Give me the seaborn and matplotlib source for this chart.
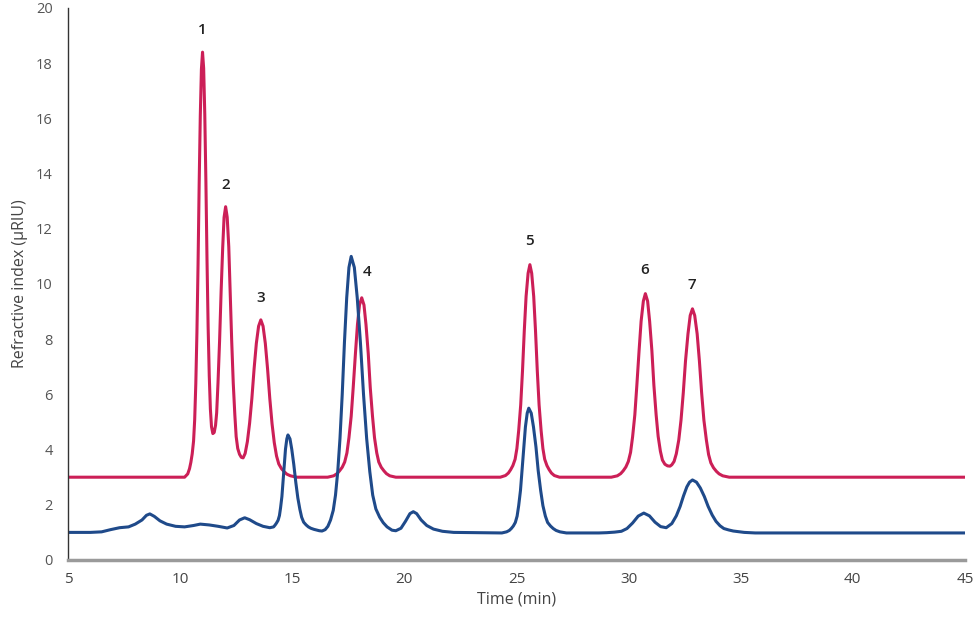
import numpy as np
import pandas as pd
import seaborn as sns
from matplotlib import pyplot as plt

# red trace (offset by ~3 uRIU)
red_time = [5.0, 10.2, 10.34, 10.42, 10.48, 10.54, 10.6, 10.65, 10.7, 10.75, 10.8, 10.85, 10.9, 10.95, 11.0,
            11.05, 11.1, 11.15, 11.2, 11.25, 11.3, 11.35, 11.4, 11.46, 11.52, 11.58, 11.63, 11.69, 11.76, 11.83,
            11.9, 11.96, 12.03, 12.1, 12.17, 12.23, 12.3, 12.37, 12.44, 12.5, 12.57, 12.65, 12.73, 12.81, 12.9,
            13.0, 13.1, 13.2, 13.3, 13.4, 13.5, 13.6, 13.7, 13.8, 13.9, 14.0, 14.1, 14.2, 14.3, 14.4, 14.52,
            14.64, 14.76, 14.92, 15.2, 16.58,
            16.85, 17.0, 17.11, 17.23, 17.34, 17.44, 17.53, 17.63, 17.72, 17.82, 17.91, 18.0, 18.1, 18.2, 18.29,
            18.39, 18.48, 18.58, 18.67, 18.77, 18.86, 18.97, 19.09, 19.2, 19.35, 19.62,
            24.28, 24.51, 24.64, 24.74, 24.84, 24.94, 25.02, 25.1, 25.19, 25.27, 25.35, 25.43, 25.52, 25.6,
            25.68, 25.77, 25.85, 25.93, 26.01, 26.1, 26.18, 26.26, 26.36, 26.46, 26.56, 26.69, 26.92,
            29.23, 29.5, 29.65, 29.76, 29.88, 29.99, 30.09, 30.18, 30.28, 30.37, 30.47, 30.56, 30.66, 30.75,
            30.85, 30.94, 31.04, 31.13, 31.23, 31.32, 31.42, 31.51, 31.62, 31.74, 31.85, 31.93, 32.03, 32.13,
            32.24, 32.34, 32.44, 32.54, 32.65, 32.75, 32.85, 32.95, 33.06, 33.16, 33.26, 33.36, 33.47, 33.57,
            33.67, 33.79, 33.92, 34.04, 34.2, 34.49, 45.0]
red_riu = [3.0, 3.0, 3.12, 3.31, 3.54, 3.85, 4.31, 5.08, 6.39, 8.24, 10.7, 13.63, 16.09, 17.78, 18.4,
           17.82, 16.15, 13.72, 10.86, 8.44, 6.68, 5.47, 4.83, 4.58, 4.62, 4.88, 5.33, 6.42, 7.93, 9.76,
           11.33, 12.41, 12.8, 12.42, 11.35, 9.79, 7.95, 6.41, 5.27, 4.47, 4.04, 3.83, 3.72, 3.70, 3.86,
           4.29, 4.96, 5.85, 6.93, 7.85, 8.47, 8.7, 8.47, 7.85, 6.93, 5.85, 4.94, 4.25, 3.77, 3.48, 3.31,
           3.2, 3.11, 3.05, 3.0, 3.0,
           3.05, 3.13, 3.23, 3.36, 3.55, 3.88, 4.43, 5.21, 6.25, 7.49, 8.53, 9.24, 9.5, 9.24, 8.53,
           7.49, 6.25, 5.21, 4.43, 3.88, 3.55, 3.36, 3.23, 3.13, 3.05, 3.0,
           3.0, 3.06, 3.15, 3.27, 3.42, 3.65, 4.04, 4.69, 5.62, 6.85, 8.31, 9.55, 10.39, 10.7,
           10.39, 9.55, 8.31, 6.85, 5.62, 4.69, 4.04, 3.65, 3.42, 3.27, 3.15, 3.06, 3.0,
           3.0, 3.05, 3.13, 3.23, 3.37, 3.57, 3.90, 4.46, 5.26, 6.33, 7.59, 8.65, 9.38, 9.65,
           9.38, 8.65, 7.59, 6.33, 5.26, 4.48, 3.94, 3.62, 3.47, 3.41, 3.40, 3.45, 3.57, 3.85,
           4.35, 5.07, 6.05, 7.21, 8.19, 8.86, 9.1, 8.86, 8.19, 7.21, 6.05, 5.07, 4.35, 3.82,
           3.52, 3.34, 3.21, 3.12, 3.05, 3.0, 3.0]

# blue trace
blue_time = [5.0, 6.0, 6.5, 6.9, 7.3, 7.7, 8.0, 8.3, 8.5, 8.65, 8.85, 9.1, 9.4, 9.8, 10.2, 10.6, 10.9,
             11.3, 11.7, 12.1, 12.4, 12.65, 12.88, 13.1, 13.4, 13.7, 14.0,
             14.17, 14.24, 14.3, 14.37, 14.43, 14.48, 14.54, 14.59, 14.65, 14.7, 14.76, 14.81,
             14.9, 14.98, 15.07, 15.16, 15.25, 15.34, 15.42, 15.51, 15.62, 15.72, 15.83, 15.97, 16.21,
             16.33, 16.47, 16.59, 16.71, 16.83, 16.93, 17.03, 17.13, 17.23, 17.33, 17.43, 17.53, 17.63,
             17.77, 17.9, 18.04, 18.18, 18.32, 18.46, 18.59, 18.73, 18.9, 19.06, 19.23, 19.45, 19.62,
             19.85, 20.05, 20.25, 20.4, 20.55, 20.75, 21.0, 21.3, 21.7, 22.2,
             24.35, 24.56, 24.68, 24.77, 24.86, 24.95, 25.03, 25.1, 25.18, 25.25, 25.33, 25.4, 25.48, 25.55,
             25.66, 25.76, 25.87, 25.97, 26.08, 26.18, 26.29, 26.39, 26.52, 26.64, 26.77, 26.94, 27.23,
             28.68, 29.03, 29.38, 29.68, 29.93, 30.18, 30.43, 30.68, 30.93, 31.18, 31.43, 31.68, 31.93,
             32.13, 32.3, 32.45, 32.6, 32.72, 32.85, 33.03, 33.2, 33.38, 33.55, 33.73, 33.9, 34.08, 34.25,
             34.46, 34.67, 35.16, 35.65, 45.0]
blue_riu = [1.0, 1.0, 1.02, 1.1, 1.17, 1.2, 1.3, 1.45, 1.62, 1.67, 1.58, 1.42, 1.3, 1.22, 1.2, 1.25, 1.3,
            1.27, 1.22, 1.16, 1.25, 1.45, 1.53, 1.46, 1.32, 1.22, 1.17,
            1.2, 1.27, 1.34, 1.44, 1.61, 1.89, 2.30, 2.84, 3.48, 4.02, 4.39, 4.53,
            4.39, 4.01, 3.46, 2.81, 2.25, 1.84, 1.55, 1.37, 1.27, 1.2, 1.15, 1.11, 1.06,
            1.05, 1.1, 1.22, 1.45, 1.8, 2.35, 3.2, 4.4, 6.0, 7.9, 9.5, 10.6, 11.0,
            10.6, 9.5, 7.9, 6.0, 4.4, 3.2, 2.35, 1.85, 1.55, 1.35, 1.2, 1.08, 1.06,
            1.15, 1.4, 1.68, 1.75, 1.68, 1.45, 1.25, 1.12, 1.04, 1.0,
            0.98, 1.02, 1.07, 1.14, 1.23, 1.36, 1.59, 1.97, 2.52, 3.24, 4.10, 4.82, 5.32, 5.5,
            5.32, 4.82, 4.10, 3.24, 2.52, 1.97, 1.59, 1.36, 1.23, 1.14, 1.07, 1.02, 0.98,
            0.98, 0.99, 1.01, 1.04, 1.14, 1.34, 1.59, 1.7, 1.6, 1.37, 1.21, 1.17, 1.32,
            1.6, 1.94, 2.32, 2.65, 2.82, 2.9, 2.82, 2.61, 2.30, 1.94, 1.63, 1.40, 1.24, 1.14,
            1.09, 1.05, 1.0, 0.98, 0.98]

peak_ids = ['1', '2', '3', '4', '5', '6', '7']
peak_time = [11.0, 12.03, 13.6, 18.36, 25.58, 30.7, 32.84]
peak_label_y = [19.2, 13.6, 9.5, 10.43, 11.56, 10.5, 9.96]

sns.set_style('white')
plt.rcParams['font.family'] = ['Open Sans', 'DejaVu Sans']

fig = plt.figure(figsize=(9.77, 6.29), dpi=100)
ax = fig.add_axes([0.0696, 0.1097, 0.918, 0.8776])

red = pd.DataFrame({'Time': red_time, 'RIU': red_riu})
blue = pd.DataFrame({'Time': blue_time, 'RIU': blue_riu})
sns.lineplot(data=red, x='Time', y='RIU', color='#cc1f57', lw=2.2, estimator=None, ax=ax)
sns.lineplot(data=blue, x='Time', y='RIU', color='#1f4a8a', lw=2.2, estimator=None, ax=ax)

for lab, t, yy in zip(peak_ids, peak_time, peak_label_y):
    ax.text(t, yy, lab, ha='center', va='center', fontsize=11, fontweight='semibold', color='#222222')

ax.set_xlim(5, 45)
ax.set_ylim(0, 20)
ax.set_xticks(np.arange(5, 46, 5))
ax.set_yticks(np.arange(0, 21, 2))

for s in ['top', 'right']:
    ax.spines[s].set_visible(False)
ax.spines['left'].set_color('#333333')
ax.spines['left'].set_linewidth(1.0)
ax.spines['bottom'].set_color('#9a9a9a')
ax.spines['bottom'].set_linewidth(2.5)

ax.tick_params(axis='x', direction='out', length=4, width=1, colors='#888888', labelcolor='#444444',
               labelsize=11, pad=5)
ax.tick_params(axis='y', direction='out', length=3, width=1, colors='#666666', labelcolor='#555555',
               labelsize=10.5, pad=8)

ax.set_xlabel('Time (min)', fontsize=11.5, color='#444444', labelpad=3)
ax.set_ylabel('Refractive index (µRIU)', fontsize=11.5, color='#444444', labelpad=6)

fig.savefig('out.png', dpi=100)
